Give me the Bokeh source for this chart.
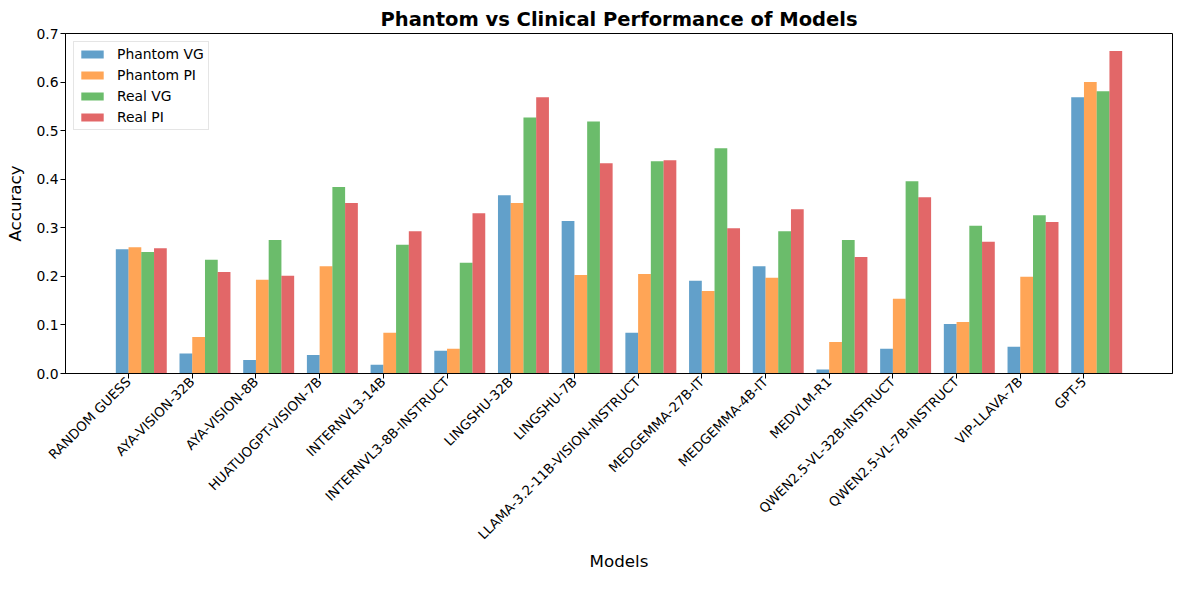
import math
import numpy as np
from bokeh.plotting import figure
from bokeh.models import ColumnDataSource, Range1d, FixedTicker, Legend, LegendItem, NumeralTickFormatter
from bokeh.transform import dodge
from bokeh.embed import file_html
from bokeh.resources import INLINE

models = ["RANDOM GUESS", "AYA-VISION-32B", "AYA-VISION-8B", "HUATUOGPT-VISION-7B",
          "INTERNVL3-14B", "INTERNVL3-8B-INSTRUCT", "LINGSHU-32B", "LINGSHU-7B",
          "LLAMA-3.2-11B-VISION-INSTRUCT", "MEDGEMMA-27B-IT", "MEDGEMMA-4B-IT", "MEDVLM-R1",
          "QWEN2.5-VL-32B-INSTRUCT", "QWEN2.5-VL-7B-INSTRUCT", "VIP-LLAVA-7B", "GPT-5"]
phantom_vg = [0.256, 0.041, 0.028, 0.038, 0.018, 0.047, 0.367, 0.314, 0.084, 0.191, 0.221, 0.008, 0.051, 0.102, 0.055, 0.569]
phantom_pi = [0.260, 0.075, 0.193, 0.221, 0.084, 0.051, 0.351, 0.203, 0.205, 0.170, 0.197, 0.065, 0.154, 0.106, 0.199, 0.600]
real_vg    = [0.250, 0.234, 0.275, 0.384, 0.265, 0.228, 0.527, 0.519, 0.437, 0.464, 0.293, 0.275, 0.396, 0.304, 0.326, 0.581]
real_pi    = [0.258, 0.209, 0.201, 0.351, 0.293, 0.330, 0.569, 0.433, 0.439, 0.299, 0.338, 0.240, 0.363, 0.271, 0.312, 0.664]
series_names = ["Phantom VG", "Phantom PI", "Real VG", "Real PI"]
y_ticks = [0.0, 0.1, 0.2, 0.3, 0.4, 0.5, 0.6, 0.7]

colors = ["#1f77b4", "#ff7f0e", "#2ca02c", "#d62728"]
bar_w = 0.2
FONT = "DejaVu Sans"

xs = list(range(len(models)))
source = ColumnDataSource(dict(x=xs, pvg=phantom_vg, ppi=phantom_pi, rvg=real_vg, rpi=real_pi))

p = figure(width=1173, height=574, output_backend="svg", toolbar_location=None,
           x_range=Range1d(-0.89, 16.49), y_range=Range1d(0, 0.7),
           min_border_left=65, min_border_right=1, min_border_top=33, min_border_bottom=201)

cols = ["pvg", "ppi", "rvg", "rpi"]
renderers = []
for k, c in enumerate(cols):
    r = p.vbar(x=dodge("x", k * bar_w, range=p.x_range), top=c, width=bar_w, source=source,
               fill_color=colors[k], fill_alpha=0.7, line_color=None)
    renderers.append(r)

legend = Legend(items=[LegendItem(label=n, renderers=[r]) for n, r in zip(series_names, renderers)],
                location="top_left")
legend.label_text_font = FONT
legend.label_text_font_size = "13.9px"
legend.label_text_color = "black"
legend.glyph_width = 28
legend.glyph_height = 10
legend.label_height = 16
legend.label_standoff = 11
legend.spacing = 5
legend.padding = 4
legend.margin = 8
legend.border_line_color = "#cccccc"
legend.border_line_width = 1
legend.background_fill_alpha = 0.8
p.add_layout(legend)

p.title.text = "Phantom vs Clinical Performance of Models"
p.title.align = "center"
p.title.text_font = FONT
p.title.text_font_size = "19.5px"
p.title.text_font_style = "bold"
p.title.text_color = "black"
p.title.offset = 0
p.title.standoff = 6

p.xgrid.visible = False
p.ygrid.visible = False
p.outline_line_color = "black"
p.outline_line_alpha = 1
p.outline_line_width = 1

tick_pos = [i + 0.1 for i in xs]
p.xaxis.ticker = FixedTicker(ticks=tick_pos)
p.xaxis.major_label_overrides = {t: m for t, m in zip(tick_pos, models)}
p.xaxis.major_label_orientation = math.pi / 4
p.yaxis.ticker = FixedTicker(ticks=y_ticks)
p.yaxis.formatter = NumeralTickFormatter(format="0.0")

for ax in (p.xaxis, p.yaxis):
    ax.axis_line_color = "black"
    ax.major_tick_line_color = "black"
    ax.major_tick_out = 5
    ax.major_tick_in = 0
    ax.minor_tick_line_color = None
    ax.major_label_text_font = FONT
    ax.major_label_text_font_size = "13.9px"
    ax.major_label_text_color = "black"
    ax.axis_label_text_font = FONT
    ax.axis_label_text_font_size = "16.7px"
    ax.axis_label_text_font_style = "normal"
    ax.axis_label_text_color = "black"

p.xaxis.major_label_text_font_size = "13.3px"
p.xaxis.major_label_standoff = 1
p.xaxis.axis_label_standoff = 0
p.yaxis.major_label_standoff = 2
p.yaxis.axis_label_standoff = 8

p.xaxis.axis_label = "Models"
p.yaxis.axis_label = "Accuracy"

open("out.html", "w").write(file_html(p, INLINE))
